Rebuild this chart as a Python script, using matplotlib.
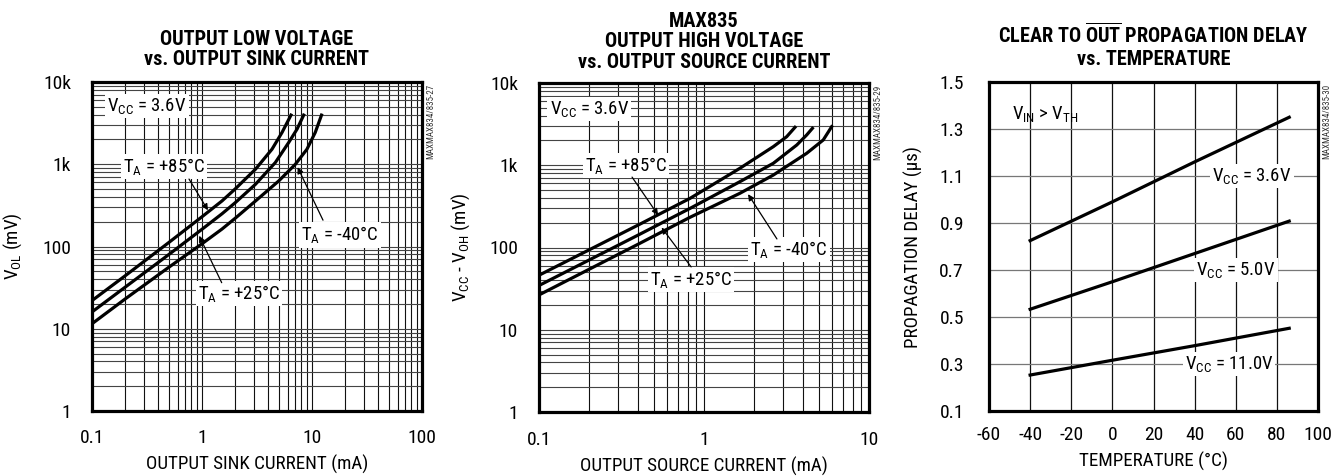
import numpy as np
import matplotlib
matplotlib.use("Agg")
import matplotlib.pyplot as plt
from matplotlib import font_manager
from matplotlib.ticker import LogLocator, NullFormatter

# ---- data ----
# panel 1: output low voltage vs sink current (mA -> mV)
sink_85_x = [0.1, 0.2, 0.5, 1, 1.52, 2, 3.06, 4.33, 5.34, 6.44]
sink_85_y = [22, 44, 112, 230, 358, 500, 869, 1524, 2434, 3960]
sink_25_x = [0.1, 0.2, 0.5, 1, 1.52, 2, 3.06, 4.64, 6.14, 7.31, 8.4]
sink_25_y = [16, 32, 80, 162, 250, 340, 570, 1048, 1838, 2671, 3960]
sink_m40_x = [0.1, 0.2, 0.5, 1, 1.52, 2, 3.06, 4.98, 7.06, 9.0, 10.7, 12.2]
sink_m40_y = [11.5, 23, 56, 108, 163, 220, 357, 626, 1000, 1524, 2434, 3960]

# panel 2: output high voltage vs source current
src_85_x = [0.1, 0.2, 0.4, 0.823, 1.65, 2.63, 3.17, 3.56]
src_85_y = [46, 93, 188, 396, 918, 1682, 2224, 2893]
src_25_x = [0.1, 0.2, 0.4, 0.823, 1.65, 2.63, 3.65, 4.19, 4.54]
src_25_y = [34.5, 70, 142, 299, 631, 1056, 1763, 2333, 2812]
src_m40_x = [0.1, 0.2, 0.4, 0.823, 1.65, 2.63, 4.19, 5.28, 5.94]
src_m40_y = [26.5, 54, 110, 233, 456, 760, 1397, 2028, 2944]

# panel 3: propagation delay vs temperature (degC -> us)
temp = [-40, 0, 40, 86]
delay_36 = [0.825, 0.99, 1.16, 1.35]
delay_50 = [0.533, 0.65, 0.77, 0.908]
delay_110 = [0.253, 0.316, 0.378, 0.452]

# ---- fonts ----
names = {f.name for f in font_manager.fontManager.ttflist}
FAM = next((n for n in ['Liberation Sans Narrow', 'Roboto Condensed', 'DejaVu Sans Condensed',
                        'Liberation Sans'] if n in names), 'DejaVu Sans')
plt.rcParams['font.family'] = [FAM, 'DejaVu Sans']
plt.rcParams['mathtext.fontset'] = 'custom'
plt.rcParams['mathtext.rm'] = FAM
plt.rcParams['mathtext.it'] = FAM
plt.rcParams['mathtext.bf'] = FAM + ':bold'
plt.rcParams['axes.unicode_minus'] = False

FS = 13.7       # axis labels
FS_TICK = 14
FS_TITLE = 14.6
FS_TXT = 13.5   # in-plot labels
W, H = 1340, 476
fig = plt.figure(figsize=(W / 100, H / 100), dpi=100)


def axes_px(left, top, right, bottom):
    return fig.add_axes([left / W, (H - bottom) / H, (right - left) / W, (bottom - top) / H])


def curve_y(xs, ys, x):
    return 10 ** np.interp(np.log10(x), np.log10(xs), np.log10(ys))


def frame(ax):
    for s in ax.spines.values():
        s.set_linewidth(2.3)
        s.set_color('black')
    ax.tick_params(which='both', length=0, labelsize=FS_TICK)


def loglog_setup(ax, xlim, xticks, xlabels, ylabel, xlabel, xpad, ypad):
    ax.set_xscale('log')
    ax.set_yscale('log')
    ax.set_xlim(*xlim)
    ax.set_ylim(1, 10000)
    ax.xaxis.set_minor_locator(LogLocator(base=10, subs=np.arange(2, 10)))
    ax.yaxis.set_minor_locator(LogLocator(base=10, subs=np.arange(2, 10)))
    ax.xaxis.set_minor_formatter(NullFormatter())
    ax.yaxis.set_minor_formatter(NullFormatter())
    ax.set_xticks(xticks, xlabels)
    ax.set_yticks([1, 10, 100, 1000, 10000], ['1', '10', '100', '1k', '10k'])
    ax.grid(which='both', axis='x', color='#111111', lw=0.8)
    ax.grid(which='both', axis='y', color='#444444', lw=0.8)
    frame(ax)
    ax.tick_params(axis='x', pad=xpad)
    ax.tick_params(axis='y', pad=ypad)
    ax.set_ylabel(ylabel, fontsize=FS)
    ax.set_xlabel(xlabel, fontsize=FS, va='top')


def label(ax, x, y, s, **kw):
    ax.text(x, y, s, transform=ax.transAxes, ha='center', va='center', fontsize=FS_TXT, zorder=5,
            bbox=dict(facecolor='white', edgecolor='none', pad=1.5), **kw)


def arrow(ax, head, tail):
    ax.annotate('', xy=head, xycoords='data', xytext=tail, textcoords='axes fraction',
                arrowprops=dict(arrowstyle='-|>', color='black', lw=0.9, mutation_scale=9,
                                shrinkA=0, shrinkB=1), zorder=6)


def watermark(ax, s, fy=0.88):
    ax.text(1.026, fy, s, transform=ax.transAxes, rotation=90, ha='center', va='center',
            fontsize=6.5, color='#333333')


# ---------------- panel 1 ----------------
ax1 = axes_px(92, 82, 422, 411)
for xs, ys in [(sink_85_x, sink_85_y), (sink_25_x, sink_25_y), (sink_m40_x, sink_m40_y)]:
    ax1.plot(xs, ys, color='black', lw=2.3, zorder=4)
loglog_setup(ax1, (0.1, 100), [0.1, 1, 10, 100], ['0.1', '1', '10', '100'],
             r'V$_{\rm OL}$ (mV)', 'OUTPUT SINK CURRENT (mA)', 13, 15)
ax1.yaxis.set_label_coords(-0.206, 0.5)
ax1.xaxis.set_label_coords(0.5, -0.134)
ax1.set_title('OUTPUT LOW VOLTAGE\nvs. OUTPUT SINK CURRENT', fontsize=FS_TITLE, fontweight='bold',
              pad=12, linespacing=1.1)
label(ax1, 0.167, 0.927, r'V$_{\rm CC}$ = 3.6V')
label(ax1, 0.218, 0.742, r'T$_{\rm A}$ = +85°C')
label(ax1, 0.445, 0.356, r'T$_{\rm A}$ = +25°C')
label(ax1, 0.752, 0.535, r'T$_{\rm A}$ = -40°C')
arrow(ax1, (1.15, curve_y(sink_85_x, sink_85_y, 1.15)), (0.294, 0.705))
arrow(ax1, (0.93, curve_y(sink_25_x, sink_25_y, 0.93) * 0.93), (0.393, 0.39))
arrow(ax1, (7.3, curve_y(sink_m40_x, sink_m40_y, 7.3) * 0.9), (0.70, 0.58))
watermark(ax1, 'MAXMAX834/835-27')

# ---------------- panel 2 ----------------
ax2 = axes_px(539, 83, 869, 412)
for xs, ys in [(src_85_x, src_85_y), (src_25_x, src_25_y), (src_m40_x, src_m40_y)]:
    ax2.plot(xs, ys, color='black', lw=2.3, zorder=4)
loglog_setup(ax2, (0.1, 10), [0.1, 1, 10], ['0.1', '1', '10'],
             r'V$_{\rm CC}$ - V$_{\rm OH}$ (mV)', 'OUTPUT SOURCE CURRENT (mA)', 13.5, 15)
ax2.yaxis.set_label_coords(-0.203, 0.5)
ax2.xaxis.set_label_coords(0.5, -0.137)
ax2.set_title('MAX835\nOUTPUT HIGH VOLTAGE\nvs. OUTPUT SOURCE CURRENT', fontsize=FS_TITLE,
              fontweight='bold', pad=11, linespacing=1.1)
label(ax2, 0.152, 0.921, r'V$_{\rm CC}$ = 3.6V')
label(ax2, 0.264, 0.748, r'T$_{\rm A}$ = +85°C')
label(ax2, 0.461, 0.404, r'T$_{\rm A}$ = +25°C')
label(ax2, 0.758, 0.495, r'T$_{\rm A}$ = -40°C')
arrow(ax2, (0.533, curve_y(src_85_x, src_85_y, 0.533) * 0.95), (0.282, 0.714))
arrow(ax2, (0.547, curve_y(src_25_x, src_25_y, 0.547) * 0.92), (0.461, 0.441))
arrow(ax2, (1.83, curve_y(src_m40_x, src_m40_y, 1.83) * 0.9), (0.721, 0.526))
watermark(ax2, 'MAXMAX834/835-29')

# ---------------- panel 3 ----------------
ax3 = axes_px(989, 82, 1318, 411)
for ys in [delay_36, delay_50, delay_110]:
    ax3.plot(temp, ys, color='black', lw=2.3, zorder=4)
ax3.set_xlim(-60, 100)
ax3.set_ylim(0.1, 1.5)
ax3.set_xticks(np.arange(-60, 101, 20), [str(v) for v in range(-60, 101, 20)])
ax3.set_yticks(np.arange(0.1, 1.51, 0.2), ['0.1', '0.3', '0.5', '0.7', '0.9', '1.1', '1.3', '1.5'])
ax3.grid(axis='x', color='#111111', lw=0.9)
ax3.grid(axis='y', color='#777777', lw=0.9)
frame(ax3)
ax3.tick_params(axis='x', pad=10.5)
ax3.tick_params(axis='y', pad=18)
ax3.set_ylabel('PROPAGATION DELAY (µs)', fontsize=FS)
ax3.set_xlabel('TEMPERATURE (°C)', fontsize=FS, va='top')
ax3.yaxis.set_label_coords(-0.2, 0.5)
ax3.xaxis.set_label_coords(0.5, -0.125)
ax3.set_title('CLEAR TO $\\overline{\\bf OUT}$ PROPAGATION DELAY\nvs. TEMPERATURE', fontsize=FS_TITLE,
              fontweight='bold', pad=12, linespacing=1.25)
ax3.text(-49, 1.364, r'V$_{\rm IN}$ > V$_{\rm TH}$', ha='left', va='center', fontsize=FS_TXT)
for x, y, s in [(67.9, 1.1, '3.6V'), (60.1, 0.7, '5.0V'), (56.7, 0.3, '11.0V')]:
    ax3.text(x, y, r'V$_{\rm CC}$ = ' + s, ha='center', va='center', fontsize=FS_TXT, zorder=5,
             bbox=dict(facecolor='white', edgecolor='none', pad=1.5))
watermark(ax3, 'MAXMAX834/835-30')

fig.savefig('out.png', dpi=100)
